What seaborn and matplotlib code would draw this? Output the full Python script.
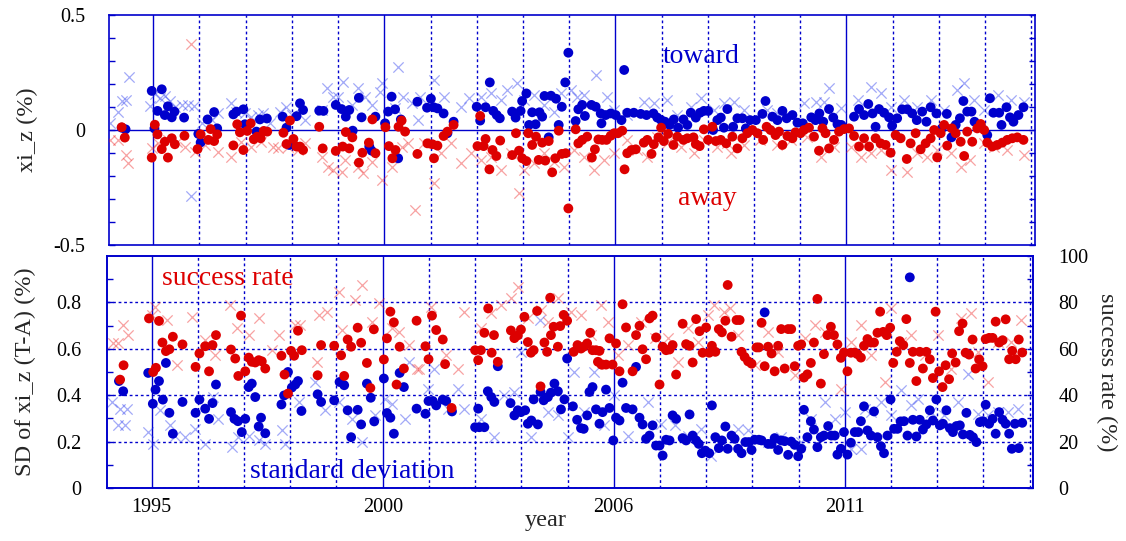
import matplotlib
matplotlib.use("Agg")
import matplotlib.pyplot as plt
import pandas as pd
import seaborn as sns

# ---------------- data (x = month index, 0 = "1995" tick) ----------------
year_tick_pos = [0, 60, 120, 180]
year_tick_labels = ["1995", "2000", "2006", "2011"]
minor_grid_pos = [12, 24, 36, 48, 72, 84, 96, 108, 132, 144, 156, 168, 192, 204, 216, 228]

toward_dots = [(-8.2,0.010),(-7.2,0.003),(-0.4,0.170),(0.3,0.007),(1.1,0.083),(2.2,0.177),(3.0,0.065),(3.8,0.103),(4.8,0.055),(5.5,0.080),(8.0,0.054),(11.7,-0.017),(12.3,-0.054),(14.1,0.046),(15.8,0.078),(16.6,0.007),(20.8,0.068),(21.6,0.080),(23.4,0.090),(23.8,0.025),(26.8,-0.007),(27.7,0.046),(29.5,0.050),(33.6,0.058),(34.6,0.010),(35.3,-0.065),(37.2,0.060),(38.1,0.116),(38.9,0.087),(43.1,0.084),(44.2,0.083),(47.4,0.109),(48.9,0.091),(50.0,0.058),(50.9,0.087),(51.8,-0.003),(53.4,0.140),(54.1,0.055),(56.1,-0.072),(56.7,-0.090),(57.7,0.058),(60.2,0.029),(61.0,0.080),(61.9,0.145),(62.8,0.090),(64.3,0.046),(63.6,-0.123),(68.6,0.123),
(71.1,0.097),(72.1,0.136),(72.8,0.099),(73.8,0.094),(75.4,0.072),(76.4,-0.014),(78.0,0.036),(84.0,0.101),(84.9,0.041),(86.3,0.099),(87.4,0.207),(88.3,0.083),(89.2,0.065),(90.0,0.051),(93.2,0.080),(94.1,0.054),(95.4,0.083),(95.8,0.126),(96.9,0.159),(97.6,0.022),(98.4,0.077),(99.3,0.025),(100.3,0.077),(101.0,0.058),(101.6,0.148),(102.7,-0.032),(103.3,0.149),(104.6,0.136),(105.3,0.022),(106.1,0.101),(107.0,0.207),(107.8,0.336),(109.7,0.039),(110.4,0.090),(111.4,0.109),(112.1,0.061),(113.8,0.109),(114.9,0.101),(116.2,0.072),(116.4,0.029),(117.5,0.065),(118.8,0.072),(120.1,0.065),(121.6,0.043),(122.3,0.261),(123.1,0.075),(124.8,0.075),(126.6,0.070),(128.1,0.065),(129.9,0.072),(130.9,0.054),(131.9,0.043),(132.9,0.036),(134.1,0.022),(135.2,0.046),(136.3,0.010),(137.7,0.046),(138.7,0.022),(139.6,0.075),(140.9,0.054),(142.0,0.075),(143.0,0.083),(144.1,0.083),(145.4,0.000),(146.5,0.043),(147.4,0.054),(148.2,0.010),(149.1,0.091),
(150.6,0.014),(151.7,0.051),(153.0,0.051),(153.9,0.007),(155.0,0.043),(156.5,0.043),(158.2,0.070),(159.0,0.126),(160.8,0.058),(162.1,0.043),(163.4,0.083),(164.5,0.051),(166.0,0.065),(167.3,0.032),(168.7,0.029),(170.9,0.055),(172.0,0.043),(173.0,0.072),(174.0,0.036),(175.5,0.091),(176.6,0.054),(177.7,0.025),(178.7,0.022),(182.0,0.058),(183.3,0.091),(184.6,0.065),(185.7,0.113),(186.8,0.072),(187.6,0.014),(188.5,0.091),(189.8,0.075),(191.1,0.055),(191.9,0.019),(193.2,0.051),(194.5,0.090),(195.8,0.090),(197.1,0.072),(198.3,0.043),(199.7,0.080),(200.8,0.036),(201.9,0.099),(203.4,0.072),(204.8,0.007),(206.1,0.070),(207.3,-0.032),(208.4,0.022),(209.5,0.051),(210.4,0.126),(211.4,0.080),(212.5,0.080),(213.3,0.036),(214.9,0.019),(216.6,-0.022),(217.3,0.138),(218.2,0.075),(219.7,0.075),(220.3,0.022),(221.6,0.099),(222.5,0.055),(223.4,0.036),(224.7,0.065),(226.0,0.099)]

away_dots = [(-8.2,0.012),(-7.4,-0.033),(-0.4,-0.120),(0.4,0.023),(1.1,-0.019),(2.2,-0.083),(3.0,-0.051),(3.8,-0.120),(4.8,-0.036),(5.6,-0.062),(8.1,-0.025),(11.5,-0.083),(12.3,-0.019),(14.3,-0.043),(14.9,0.004),(15.8,-0.048),(16.6,-0.019),(20.8,-0.067),(21.8,0.025),(22.5,-0.010),(23.4,-0.087),(24.4,-0.004),(25.3,0.029),(26.1,-0.040),(27.0,-0.029),(27.9,-0.036),(28.7,-0.004),(29.6,-0.007),(33.8,-0.012),(34.6,-0.061),(35.5,0.041),(36.4,-0.039),(37.2,-0.072),(38.1,-0.072),(38.9,-0.087),(43.1,0.014),(44.0,-0.080),(47.4,-0.091),(49.2,-0.072),(50.0,-0.009),(50.9,-0.080),(51.7,-0.032),(53.4,-0.142),(54.3,-0.099),(56.0,-0.055),(56.9,0.046),(57.7,-0.101),(60.3,0.012),(61.2,-0.070),(62.1,-0.123),(62.9,-0.087),(63.7,0.014),(64.5,0.041),(65.4,-0.007),(68.6,-0.104),
(71.2,-0.058),(72.5,-0.062),(72.9,-0.123),(73.8,-0.068),(75.4,-0.026),(76.4,-0.007),(78.0,0.022),(84.2,-0.070),(84.9,0.061),(85.8,-0.070),(86.3,-0.039),(87.3,-0.171),(88.1,-0.087),(89.1,-0.113),(90.1,-0.046),(93.2,-0.109),(94.2,-0.014),(95.0,-0.090),(95.8,-0.123),(96.9,-0.135),(97.4,-0.014),(98.4,-0.065),(99.4,-0.029),(100.1,-0.130),(101.0,-0.055),(101.8,-0.133),(102.7,-0.048),(103.6,-0.184),(104.4,-0.123),(105.3,-0.003),(106.1,-0.104),(107.1,-0.101),(107.8,-0.341),(109.7,0.003),(110.4,-0.058),(111.4,-0.043),(112.7,-0.029),(113.9,-0.120),(114.7,-0.084),(115.6,-0.041),(116.6,-0.043),(117.7,-0.043),(118.8,-0.025),(119.7,-0.014),(120.7,-0.014),(121.8,-0.003),(122.4,-0.171),(123.1,-0.101),(124.2,-0.087),(125.3,-0.084),(127.4,-0.055),(128.3,-0.043),(129.4,-0.104),(130.0,-0.062),(131.2,-0.032),(131.9,0.010),(132.6,-0.048),(133.7,-0.017),(135.1,-0.065),(136.1,-0.029),(137.7,-0.043),(138.7,-0.036),(140.3,-0.032),(140.9,-0.061),(141.9,-0.070),(143.0,0.003),(144.1,-0.043),(145.2,0.014),(146.1,-0.048),(147.4,-0.043),(148.8,-0.058),
(150.4,-0.029),(151.7,-0.080),(153.0,-0.036),(154.3,-0.014),(155.6,0.000),(156.9,-0.014),(158.4,-0.043),(159.3,0.014),(160.3,0.000),(161.6,-0.022),(162.5,-0.007),(163.4,-0.065),(164.7,-0.026),(166.0,-0.036),(166.8,-0.010),(168.1,-0.014),(169.0,0.000),(170.3,0.010),(171.6,-0.029),(172.9,-0.090),(173.8,0.007),(174.6,-0.014),(175.5,-0.080),(176.8,-0.043),(178.1,-0.007),(179.4,0.004),(180.7,0.007),(182.0,-0.026),(183.3,-0.072),(184.6,-0.036),(185.9,-0.072),(187.6,-0.036),(188.9,-0.058),(190.2,-0.065),(191.5,-0.099),(192.8,-0.022),(194.1,-0.036),(195.7,-0.126),(196.7,-0.058),(198.0,-0.014),(199.3,-0.084),(200.6,-0.058),(201.9,-0.036),(202.8,0.000),(203.6,-0.119),(204.5,-0.014),(205.4,0.022),(206.2,-0.068),(207.4,0.007),(208.4,-0.014),(209.7,-0.051),(210.6,-0.113),(211.4,-0.007),(212.7,-0.051),(214.0,0.007),(214.9,0.026),(215.8,0.000),(216.6,-0.055),(217.9,-0.072),(219.2,-0.065),(220.5,-0.055),(221.8,-0.043),(223.1,-0.036),(224.4,-0.032),(226.0,-0.043)]

toward_cross = [(-11.3,0.029),(-9.1,0.080),(-8.1,0.126),(-7.2,0.130),(-6.3,0.232),(-0.9,0.104),(0.4,0.155),(1.7,0.138),(3.0,0.148),(4.3,0.126),(5.6,0.101),(7.4,0.109),(9.1,0.109),(10.6,0.104),(9.8,-0.286),(12.6,0.029),(15.2,0.043),(16.9,0.072),(20.3,0.116),(21.6,0.080),(23.8,0.072),(25.5,0.058),(27.3,0.065),(28.6,0.072),(30.3,0.029),(32.9,0.080),(34.6,0.101),(35.9,0.065),(39.4,0.043),(43.7,0.087),(45.0,0.181),(46.8,0.145),(48.1,0.145),(49.4,0.210),(51.5,0.109),(53.2,0.181),(55.0,0.145),(56.7,0.109),(58.9,0.167),(59.3,0.203),(62.8,0.094),(63.6,0.275),(64.9,0.145),(67.1,0.116),(68.8,0.043),
(69.4,0.145),(72.9,0.217),(75.5,0.145),(79.8,0.101),(82.0,0.138),(85.0,0.145),(87.6,0.159),(90.2,0.130),(91.9,0.174),(94.5,0.203),(96.3,0.130),(98.9,0.152),(101.5,0.109),(104.1,0.080),(105.8,0.159),(108.4,0.174),(110.1,0.145),(111.9,0.152),(114.9,0.239),(117.9,0.145),(119.7,0.087),(123.1,0.065),(127.4,0.123),(130.0,0.116),(133.5,0.130),(136.1,0.065),(139.6,0.101),(142.2,0.138),(145.6,0.087),(148.2,0.116),
(150.8,0.123),(153.4,0.087),(159.5,0.087),(162.1,0.072),(165.5,0.058),(169.0,0.116),(172.0,0.123),(174.2,0.123),(175.5,0.181),(178.5,0.094),(182.9,0.130),(186.3,0.188),(188.9,0.159),(191.5,0.101),(195.0,0.130),(198.4,0.101),(201.9,0.130),(205.4,0.087),(208.8,0.174),(210.6,0.203),(213.2,0.130),(215.8,0.087),(219.3,0.152),(222.7,0.130),(226.1,0.123)]

away_cross = [(-11.3,-0.043),(-9.1,-0.043),(-7.2,-0.109),(-6.5,-0.145),(9.8,0.374),(-0.4,-0.080),(1.3,-0.058),(3.9,-0.043),(6.1,-0.051),(8.2,-0.072),(10.8,-0.094),(13.4,-0.065),(16.9,-0.094),(20.3,-0.116),(22.9,-0.051),(25.5,-0.072),(28.1,-0.051),(31.2,-0.072),(32.5,-0.080),(35.1,-0.072),(37.7,-0.087),(39.4,-0.058),(43.7,-0.116),(45.5,-0.159),(46.8,-0.174),(48.9,-0.181),(49.8,-0.130),(53.2,-0.159),(54.5,-0.188),(56.7,-0.138),(59.3,-0.217),(61.9,-0.159),(64.5,-0.072),(66.2,-0.058),(68.0,-0.348),
(70.3,-0.058),(72.9,-0.232),(74.6,-0.101),(77.2,-0.058),(79.8,-0.145),(82.4,-0.101),(85.0,-0.130),(87.6,-0.116),(90.2,-0.174),(92.8,-0.101),(95.0,-0.275),(96.3,-0.174),(98.9,-0.145),(101.5,-0.101),(104.1,-0.138),(106.7,-0.159),(109.3,-0.087),(111.9,-0.116),(114.5,-0.174),(117.1,-0.130),(119.7,-0.101),(123.1,-0.043),(125.7,-0.087),(128.3,-0.116),(130.9,-0.029),(133.5,-0.058),(137.0,-0.072),(140.4,-0.101),(143.0,-0.043),(146.5,-0.072),(149.1,-0.058),
(150.0,-0.101),(153.4,-0.065),(157.7,-0.043),(162.1,-0.065),(165.5,-0.043),(169.9,-0.029),(173.3,-0.116),(176.8,-0.072),(181.1,-0.072),(183.7,-0.116),(186.3,-0.101),(188.9,-0.087),(191.5,-0.174),(195.8,-0.181),(198.4,-0.101),(201.0,-0.116),(203.6,-0.087),(207.1,-0.101),(209.7,-0.159),(212.2,-0.130),(215.7,-0.058),(218.3,-0.072),(221.8,-0.087),(226.1,-0.109)]

sd_dots = [(-8.5,0.461),(-7.4,0.417),(-0.9,0.496),(0.3,0.363),(1.0,0.424),(1.9,0.461),(2.9,0.381),(3.7,0.539),(4.6,0.324),(5.5,0.234),(8.0,0.371),(11.4,0.324),(12.4,0.381),(13.9,0.342),(14.9,0.298),(15.8,0.366),(16.7,0.446),(20.6,0.327),(21.5,0.298),(22.4,0.288),(23.4,0.241),(24.3,0.298),(25.2,0.435),(26.0,0.450),(26.9,0.392),(27.8,0.265),(28.4,0.303),(29.5,0.236),(33.7,0.360),(34.4,0.399),(35.4,0.500),(36.4,0.433),(37.3,0.446),(38.0,0.461),(38.9,0.332),(43.1,0.404),(44.0,0.371),(47.4,0.378),(48.8,0.457),(50.0,0.443),(50.9,0.335),(51.8,0.219),(53.5,0.337),(54.4,0.274),(55.9,0.450),(56.9,0.389),(57.8,0.287),(60.3,0.472),(61.1,0.323),(62.0,0.303),(62.9,0.234),(64.4,0.496),(65.5,0.435),(68.8,0.342),
(71.1,0.320),(71.9,0.375),(73.0,0.375),(73.9,0.356),(75.6,0.381),(76.5,0.375),(78.0,0.330),(84.0,0.262),(84.8,0.342),(85.1,0.262),(86.4,0.262),(87.3,0.417),(88.2,0.392),(89.0,0.371),(89.9,0.525),(93.2,0.366),(94.2,0.313),(95.1,0.335),(95.9,0.327),(97.0,0.335),(97.7,0.277),(98.6,0.291),(99.2,0.382),(100.3,0.274),(101.0,0.414),(101.8,0.378),(102.9,0.392),(103.7,0.411),(104.6,0.450),(105.5,0.417),(106.3,0.339),(107.2,0.382),(107.9,0.558),(109.4,0.352),(110.5,0.294),(111.5,0.258),(112.2,0.255),(113.1,0.313),(113.7,0.414),(114.5,0.435),(115.4,0.339),(116.3,0.277),(117.1,0.327),(118.0,0.424),(118.9,0.345),(119.9,0.205),(120.6,0.303),(121.5,0.291),(122.3,0.454),(123.2,0.345),(124.9,0.339),(125.8,0.522),(126.7,0.303),(127.5,0.274),(128.4,0.212),(129.3,0.226),(130.1,0.270),(131.0,0.183),(131.9,0.183),(132.7,0.140),(133.6,0.208),(134.5,0.205),(135.3,0.313),(136.2,0.298),(137.9,0.215),(138.8,0.205),(139.7,0.317),(140.5,0.226),(141.4,0.205),(142.1,0.190),(142.9,0.150),(143.8,0.161),(144.8,0.150),(145.5,0.356),(146.4,0.219),(147.3,0.172),(148.1,0.205),(149.0,0.265),(149.6,0.169),
(150.6,0.226),(151.4,0.212),(152.3,0.169),(153.2,0.150),(154.2,0.198),(155.1,0.198),(155.8,0.164),(156.6,0.208),(157.7,0.208),(158.4,0.205),(159.2,0.757),(160.1,0.190),(161.0,0.190),(161.8,0.215),(162.7,0.164),(163.5,0.205),(164.4,0.202),(165.3,0.143),(166.1,0.200),(167.0,0.186),(167.9,0.137),(168.7,0.169),
(169.4,0.337),(170.3,0.219),(171.2,0.288),(172.0,0.252),(172.9,0.176),(173.8,0.219),(174.6,0.226),(175.7,0.267),(176.5,0.226),(177.4,0.226),(178.1,0.144),(179.0,0.169),(179.8,0.241),(180.7,0.144),(181.6,0.195),(182.6,0.241),(183.5,0.241),(184.2,0.288),(185.0,0.352),(185.9,0.248),(186.8,0.226),(187.6,0.330),(188.5,0.219),(189.4,0.180),(190.2,0.150),(191.1,0.226),(191.9,0.382),(192.8,0.255),(193.7,0.255),(194.5,0.287),(195.4,0.288),(196.3,0.226),(196.9,0.908),(197.7,0.294),(198.6,0.222),(199.5,0.294),(200.3,0.252),(201.2,0.274),(202.1,0.335),(202.9,0.291),(203.8,0.382),(204.7,0.270),(205.5,0.277),(206.4,0.335),(207.3,0.258),(208.1,0.241),(209.0,0.267),(209.9,0.270),(210.7,0.231),(211.6,0.324),(212.5,0.229),(213.3,0.219),(214.2,0.198),(215.1,0.284),(215.9,0.288),(216.6,0.359),(217.5,0.277),(218.4,0.298),(219.2,0.234),(220.1,0.327),(221.0,0.294),(221.8,0.277),(222.7,0.234),(223.4,0.169),(224.2,0.277),(225.2,0.172),(226.1,0.281)]

rate_dots = [(-8.2,46.7),(-7.3,52.9),(-0.7,73.1),(0.4,50.0),(1.1,51.8),(1.9,72.0),(2.8,62.7),(3.7,59.0),(4.6,59.8),(5.5,65.2),(8.0,61.9),(11.4,52.2),(12.4,58.0),(13.9,61.1),(14.9,50.3),(15.8,61.6),(16.7,65.9),(20.6,59.7),(21.7,55.8),(22.5,48.3),(23.2,74.3),(24.3,50.3),(25.2,56.2),(26.0,54.4),(26.9,54.1),(27.8,55.1),(28.6,54.6),(29.5,51.5),(33.7,57.0),(34.5,48.9),(35.4,40.7),(36.2,59.1),(37.0,57.0),(38.0,67.8),(39.0,59.4),(43.1,48.6),(44.0,61.6),(47.4,61.3),(49.2,57.2),(50.0,48.3),(50.9,64.0),(51.8,60.9),(53.5,69.1),(54.4,62.6),(55.9,53.9),(56.8,43.1),(57.7,68.4),(60.3,55.4),(61.1,64.5),(62.0,76.0),(62.9,71.4),(63.6,44.6),(64.4,60.9),(65.5,51.5),(68.8,72.1),
(71.1,61.1),(71.9,55.5),(72.8,74.3),(73.9,68.1),(75.6,64.0),(76.2,53.4),(77.9,34.5),(84.0,59.4),(84.8,55.1),(85.5,59.4),(86.4,66.9),(87.4,77.4),(88.3,58.3),(88.9,65.9),(89.9,54.4),(93.3,67.9),(94.2,64.6),(95.1,65.8),(95.9,68.3),(96.8,73.8),(97.7,62.9),(98.5,58.3),(99.2,59.4),(100.1,76.3),(101.0,43.8),(102.0,62.7),(102.7,58.7),(103.5,82.0),(103.7,65.9),(104.4,69.5),(105.5,60.9),(106.1,69.8),(107.0,74.6),(107.9,72.1),(109.6,58.7),(110.6,61.6),(111.5,60.1),(112.2,60.9),(113.1,62.3),(113.9,66.9),(114.5,59.4),(115.4,59.4),(115.9,54.4),(116.3,59.1),(116.8,53.2),(117.1,53.2),(118.0,53.2),(118.9,64.5),(119.7,53.2),(120.6,62.3),(121.5,50.3),(122.3,79.2),(123.2,69.2),(124.9,50.3),(125.8,65.9),(126.7,69.9),(127.5,59.8),(128.4,55.5),(129.3,73.1),(130.1,74.3),(131.0,64.9),(131.9,44.6),(132.7,60.9),(133.6,59.4),(134.5,59.7),(135.3,61.6),(136.2,48.9),(137.9,70.8),(138.8,62.0),(139.7,61.3),(140.5,54.1),(141.4,72.8),(142.3,67.6),(143.1,58.3),(144.0,69.2),(144.8,58.3),(145.5,61.3),(146.4,58.7),(147.3,68.5),(148.1,67.1),(149.0,72.1),(149.6,87.5),
(150.6,65.2),(151.9,72.4),(152.7,72.4),(153.2,58.7),(154.0,56.5),(154.9,54.6),(155.8,53.6),(157.1,60.6),(157.7,60.6),(158.4,71.2),(159.2,52.5),(160.1,60.9),(161.0,58.0),(161.8,50.3),(162.7,61.3),(163.5,68.5),(164.4,51.5),(165.3,68.5),(166.1,68.5),(167.0,52.5),(167.9,61.3),(168.7,61.9),(169.4,47.6),(170.3,49.0),(171.2,53.9),(172.0,62.7),(172.9,81.5),(173.8,45.0),(174.6,57.7),(175.5,65.9),(176.4,69.5),(177.2,65.9),(178.1,61.9),(179.0,56.1),(179.8,58.4),(180.7,50.3),(181.6,58.3),(182.6,58.4),(183.3,57.7),(184.2,56.2),(185.0,61.3),(185.9,64.2),(186.8,62.7),(187.6,62.7),(188.5,66.9),(189.2,76.0),(190.0,67.3),(190.9,65.9),(191.8,69.1),(192.6,53.9),(193.5,58.7),(194.3,63.3),(195.2,61.6),(196.0,72.8),(196.9,53.9),(197.7,58.7),(198.6,46.1),(199.5,58.7),(200.3,51.5),(201.2,58.7),(202.1,55.5),(202.9,47.4),(203.6,76.0),(204.5,50.3),(205.4,43.5),(206.2,52.9),(207.1,46.9),(207.9,58.0),(208.8,54.1),(209.7,67.6),(210.6,70.9),(211.4,58.3),(212.3,57.5),(213.2,64.0),(214.0,51.5),(214.9,55.4),(215.8,52.5),(216.6,64.2),(217.5,64.7),(218.4,64.7),(219.2,71.7),(220.1,62.7),(221.0,63.7),(221.8,72.7),(222.7,55.5),(223.5,59.1),(224.4,55.5),(225.2,64.0),(226.1,58.4)]

sd_cross = [(-10.4,0.371),(-8.2,0.342),(-6.5,0.339),(-8.7,0.270),(-6.9,0.270),(-0.9,0.241),(0.4,0.190),(2.2,0.335),(4.8,0.270),(6.1,0.226),(8.7,0.219),(11.3,0.255),(13.9,0.190),(16.0,0.392),(17.3,0.298),(20.8,0.176),(22.5,0.219),(25.2,0.226),(27.8,0.205),(29.5,0.190),(33.8,0.248),(34.7,0.190),(38.2,0.371),(42.5,0.457),(45.1,0.335),(48.6,0.371),(52.0,0.298),(54.6,0.198),(58.1,0.313),(60.7,0.385),(62.4,0.363),(65.9,0.298),(66.8,0.544),
(71.7,0.428),(73.4,0.515),(76.9,0.342),(79.5,0.428),(81.2,0.342),(85.5,0.298),(89.0,0.219),(91.6,0.399),(94.2,0.414),(95.9,0.587),(98.5,0.219),(100.9,0.724),(102.9,0.327),(105.5,0.313),(108.1,0.219),(109.8,0.500),(112.4,0.327),(115.0,0.500),(117.6,0.270),(120.2,0.399),(123.6,0.226),(128.8,0.371),(132.3,0.277),(135.8,0.270),(139.2,0.226),(142.7,0.255),(145.3,0.140),
(152.3,0.255),(154.9,0.248),(160.1,0.198),(163.5,0.219),(168.7,0.198),(171.3,0.298),(174.8,0.371),(177.4,0.298),(180.0,0.327),(181.7,0.169),(184.3,0.169),(185.2,0.342),(186.9,0.327),(189.5,0.371),(192.1,0.313),(194.7,0.421),(197.3,0.356),(199.0,0.385),(202.5,0.327),(205.9,0.313),(209.4,0.371),(212.0,0.493),(214.6,0.320),(217.2,0.313),(219.8,0.327),(222.4,0.327),(225.0,0.342)]

rate_cross = [(-10.0,62.7),(-8.7,62.3),(-7.4,70.2),(-6.1,65.9),(0.9,78.2),(0.0,74.5),(3.9,72.4),(6.5,52.9),(10.4,73.8),(13.9,63.7),(16.5,57.2),(20.4,78.9),(22.1,68.8),(25.2,65.9),(27.8,73.1),(31.2,59.4),(33.0,65.9),(37.3,70.2),(38.6,70.2),(42.9,54.4),(43.4,74.5),(45.5,76.0),(48.6,84.6),(49.4,68.1),(52.9,81.0),(54.6,87.5),(57.2,71.7),(59.0,79.6),(62.4,68.8),(64.2,67.3),(66.8,61.6),(68.9,51.5),
(69.5,51.5),(72.6,78.2),(76.4,57.2),(79.5,51.5),(81.2,76.0),(85.5,68.8),(88.1,75.3),(90.7,78.9),(93.3,81.8),(95.1,86.8),(97.7,73.1),(101.1,76.7),(102.9,71.7),(105.5,81.8),(108.9,76.0),(111.5,74.5),(114.1,65.9),(116.7,78.9),(118.4,71.7),(121.0,57.2),(123.6,61.6),(127.1,71.7),(130.6,64.5),(134.0,64.5),(136.6,54.4),(139.2,68.8),(141.8,63.0),(144.4,74.5),(146.1,78.9),(148.7,76.0),
(150.1,77.4),(152.3,65.9),(156.6,52.9),(160.1,67.3),(162.7,58.7),(167.0,48.6),(169.6,64.5),(172.2,70.2),(174.8,67.3),(179.1,42.8),(181.7,63.0),(184.3,70.2),(186.9,57.2),(190.4,45.7),(192.1,77.4),(194.7,63.0),(197.3,65.9),(200.8,57.2),(204.2,65.9),(207.7,51.5),(210.3,73.1),(212.9,75.3),(214.6,58.7),(217.2,45.7),(219.8,63.0),(223.3,63.0),(225.9,72.4)]

top_ytick_vals = [-0.5, 0.0, 0.5]
top_ytick_labels = ["-0.5", "0", "0.5"]
sd_ytick_vals = [0.0, 0.2, 0.4, 0.6, 0.8]
sd_ytick_labels = ["0", "0.2", "0.4", "0.6", "0.8"]
rate_ytick_vals = [0, 20, 40, 60, 80, 100]

# ---------------- style ----------------
BLUE = "#0000CC"
RED = "#DD0000"
CROSS_BLUE = "#2233EE"
CROSS_RED = "#EE2222"

sns.set_style("white")
plt.rcParams["font.family"] = ["Liberation Serif", "DejaVu Serif"]
plt.rcParams["axes.unicode_minus"] = False


def frame(pairs, col):
    return pd.DataFrame(pairs, columns=["month", col])


fig = plt.figure(figsize=(11.26, 5.41), dpi=100)
W, H = 1126.0, 541.0
ax1 = fig.add_axes([109 / W, 1 - 245 / H, 926 / W, 230 / H])
ax2 = fig.add_axes([107.4 / W, 1 - 488 / H, 926 / W, 232 / H])
ax2r = ax2.twinx()

XMIN, XMAX = -11.5, 229.0
DOT_S = 50
CROSS_S = 55
CROSS_A = 0.42

# ---------------- top panel ----------------
sns.scatterplot(data=frame(toward_cross, "v"), x="month", y="v", ax=ax1, marker="x",
                color=CROSS_BLUE, s=CROSS_S, linewidth=0.9, alpha=CROSS_A, zorder=3, legend=False)
sns.scatterplot(data=frame(away_cross, "v"), x="month", y="v", ax=ax1, marker="x",
                color=CROSS_RED, s=CROSS_S, linewidth=0.9, alpha=CROSS_A, zorder=3, legend=False)
sns.scatterplot(data=frame(toward_dots, "v"), x="month", y="v", ax=ax1, marker="o",
                color=BLUE, s=DOT_S, edgecolor="none", linewidth=0, zorder=4, legend=False)
sns.scatterplot(data=frame(away_dots, "v"), x="month", y="v", ax=ax1, marker="o",
                color=RED, s=DOT_S, edgecolor="none", linewidth=0, zorder=5, legend=False)
ax1.axhline(0, color=BLUE, lw=1.0, zorder=2)

ax1.set_xlim(XMIN, XMAX)
ax1.set_ylim(-0.5, 0.5)
ax1.set_xticks(year_tick_pos)
ax1.set_xticks(minor_grid_pos, minor=True)
ax1.set_yticks(top_ytick_vals)
ax1.set_yticklabels(top_ytick_labels)
ax1.set_yticks([-0.4, -0.3, -0.2, -0.1, 0.1, 0.2, 0.3, 0.4], minor=True)
ax1.grid(False)
ax1.grid(True, which="major", axis="x", color=BLUE, lw=1.0, ls="-")
ax1.grid(True, which="minor", axis="x", color=BLUE, lw=1.0, ls=(0, (2, 2)))
ax1.set_axisbelow(True)
ax1.tick_params(axis="x", which="both", labelbottom=False, length=0)
ax1.tick_params(axis="y", which="both", direction="in", length=4, width=1, color=BLUE,
                right=True, left=True, labelsize=14.5, pad=17, labelcolor="black")
ax1.set_xlabel("")
ax1.set_ylabel("xi_z (%)", fontsize=17.5, va="center")
ax1.yaxis.set_label_coords(-0.0886, 0.5)
ax1.text(0.598, 0.791, "toward", transform=ax1.transAxes, color=BLUE, fontsize=20,
         ha="left", va="baseline", zorder=6)
ax1.text(0.6145, 0.174, "away", transform=ax1.transAxes, color=RED, fontsize=20,
         ha="left", va="baseline", zorder=6)

# ---------------- bottom panel ----------------
sns.scatterplot(data=frame(sd_cross, "sd"), x="month", y="sd", ax=ax2, marker="x",
                color=CROSS_BLUE, s=CROSS_S, linewidth=0.9, alpha=CROSS_A, zorder=3, legend=False)
sns.scatterplot(data=frame(sd_dots, "sd"), x="month", y="sd", ax=ax2, marker="o",
                color=BLUE, s=DOT_S, edgecolor="none", linewidth=0, zorder=4, legend=False)
sns.scatterplot(data=frame(rate_cross, "rate"), x="month", y="rate", ax=ax2r, marker="x",
                color=CROSS_RED, s=CROSS_S, linewidth=0.9, alpha=CROSS_A, zorder=3, legend=False)
sns.scatterplot(data=frame(rate_dots, "rate"), x="month", y="rate", ax=ax2r, marker="o",
                color=RED, s=DOT_S, edgecolor="none", linewidth=0, zorder=5, legend=False)

ax2.set_xlim(XMIN, XMAX)
ax2.set_ylim(0, 1.0)
ax2r.set_ylim(0, 100)
ax2.set_xticks(year_tick_pos)
ax2.set_xticklabels(year_tick_labels)
ax2.set_xticks(minor_grid_pos, minor=True)
ax2.set_yticks(sd_ytick_vals)
ax2.set_yticklabels(sd_ytick_labels)
ax2.set_yticks([0.1, 0.3, 0.5, 0.7, 0.9], minor=True)
ax2r.set_yticks(rate_ytick_vals)
ax2r.set_yticklabels([str(v) for v in rate_ytick_vals])
ax2r.set_yticks([10, 30, 50, 70, 90], minor=True)
ax2.grid(False)
ax2r.grid(False)
ax2.grid(True, which="major", axis="x", color=BLUE, lw=1.0, ls="-")
ax2.grid(True, which="minor", axis="x", color=BLUE, lw=1.0, ls=(0, (2, 2)))
ax2.grid(True, which="major", axis="y", color=BLUE, lw=1.0, ls=(0, (2, 2)))
ax2.set_axisbelow(True)
ax2.tick_params(axis="x", which="both", direction="in", length=0, labelsize=14.5, pad=7,
                labelcolor="black")
ax2.tick_params(axis="y", which="both", direction="in", length=4, width=1, color=BLUE,
                left=True, right=False, labelsize=14.5, pad=18.5, labelcolor="black")
ax2r.tick_params(axis="y", which="both", direction="in", length=4, width=1, color=BLUE,
                 right=True, left=False, labelsize=14.5, pad=18, labelcolor="black")
ax2.set_xlabel("year", fontsize=17.5, va="center")
ax2.xaxis.set_label_coords(0.473, -0.14)
ax2.set_ylabel("SD of xi_z (T-A) (%)", fontsize=17.5, va="center")
ax2.yaxis.set_label_coords(-0.0886, 0.5)
ax2r.set_ylabel("success rate (%)", fontsize=17.5, rotation=270, va="center")
ax2r.yaxis.set_label_coords(1.079, 0.5)
ax2r.text(0.0594, 0.875, "success rate", transform=ax2.transAxes, color=RED, fontsize=20,
          ha="left", va="baseline", zorder=6)
ax2r.text(0.1544, 0.043, "standard deviation", transform=ax2.transAxes, color=BLUE,
          fontsize=20, ha="left", va="baseline", zorder=6)

for ax in (ax1, ax2, ax2r):
    for sp in ax.spines.values():
        sp.set_color(BLUE)
        sp.set_linewidth(1.2)
        sp.set_visible(True)

fig.savefig("out.png", dpi=100)
